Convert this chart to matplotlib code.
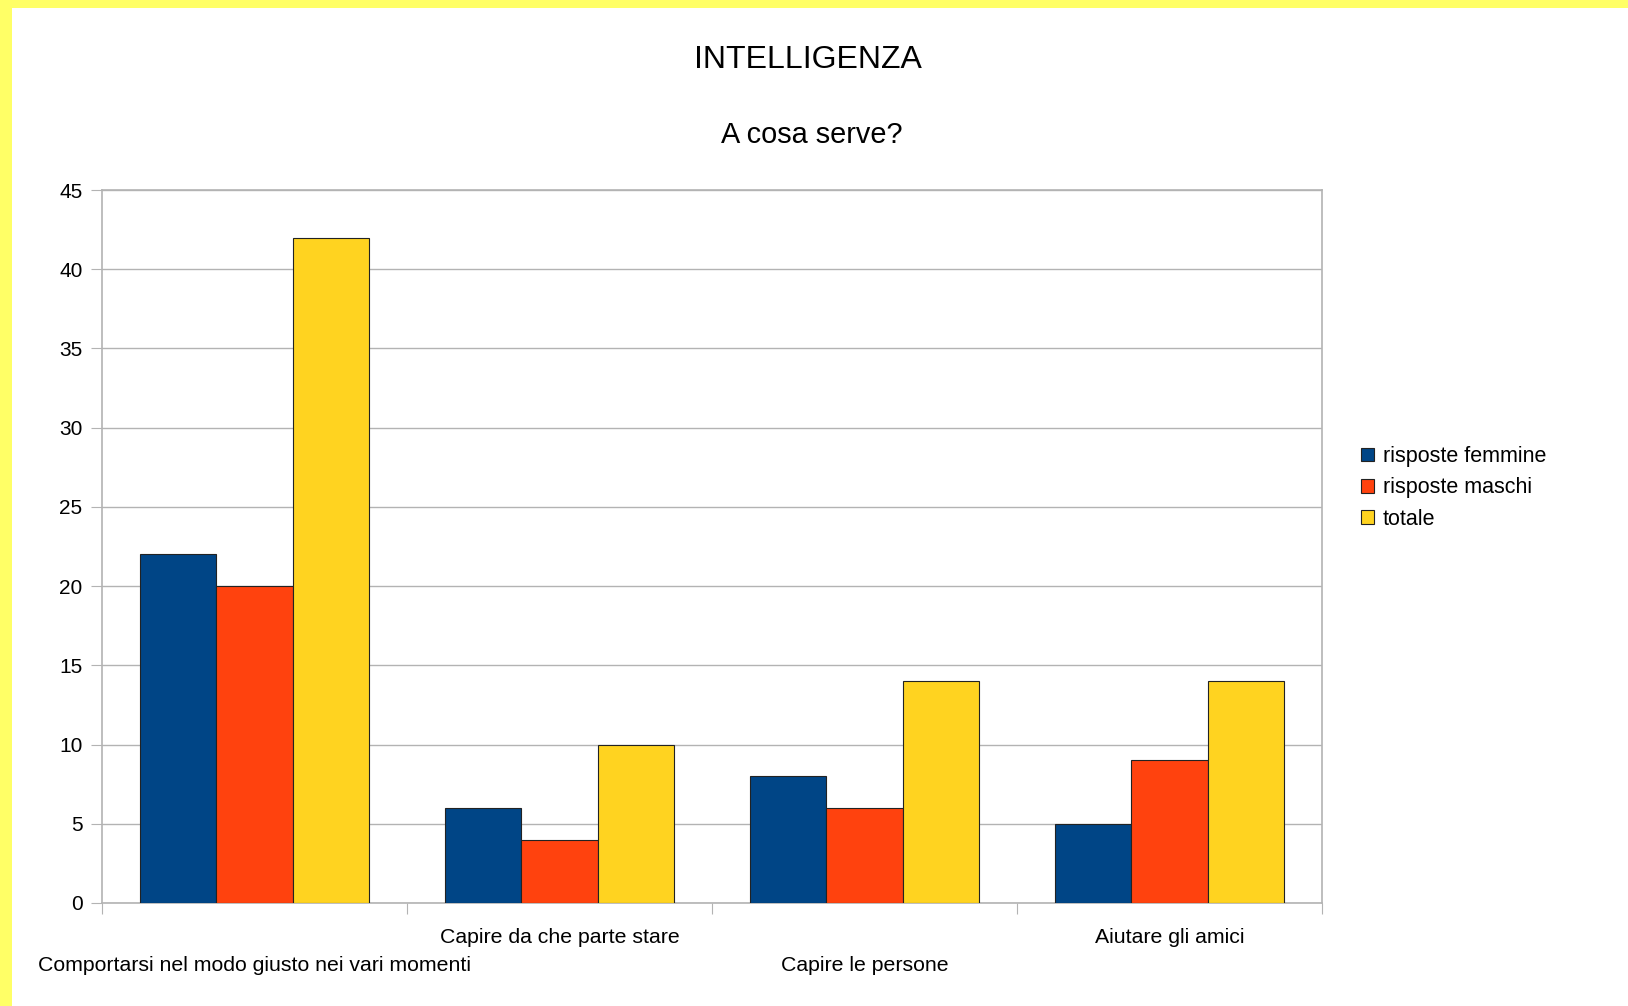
"""Grouped bar chart: INTELLIGENZA - A cosa serve?"""

import matplotlib

matplotlib.use("Agg")
import matplotlib.pyplot as plt
import numpy as np
from matplotlib.patches import Rectangle
from matplotlib.transforms import blended_transform_factory

plt.rcParams["font.family"] = ["Liberation Sans", "DejaVu Sans"]

categories = [
    "Comportarsi nel modo giusto nei vari momenti",
    "Capire da che parte stare",
    "Capire le persone",
    "Aiutare gli amici",
]
series_names = ["risposte femmine", "risposte maschi", "totale"]
femmine = [22, 6, 8, 5]
maschi = [20, 4, 6, 9]
totale = [42, 10, 14, 14]
y_ticks = [0, 5, 10, 15, 20, 25, 30, 35, 40, 45]

COLORS = ["#004586", "#ff420e", "#ffd320"]
GRID = "#b3b3b3"
W, H = 1628, 1006

fig = plt.figure(figsize=(W / 100, H / 100), dpi=100)
fig.patch.set_facecolor("white")

# yellow frame on top and left
fig.patches.append(Rectangle((0, 1 - 8 / H), 1, 8 / H, transform=fig.transFigure,
                             facecolor="#ffff66", edgecolor="none", zorder=0))
fig.patches.append(Rectangle((0, 0), 12 / W, 1, transform=fig.transFigure,
                             facecolor="#ffff66", edgecolor="none", zorder=0))

ax = fig.add_axes([102 / W, 1 - 903 / H, (1322 - 102) / W, (903 - 190) / H])

x = np.arange(len(categories))
bw = 0.25
for i, (vals, name) in enumerate(zip([femmine, maschi, totale], series_names)):
    ax.bar(x + (i - 1) * bw, vals, width=bw, color=COLORS[i], edgecolor="#222222",
           linewidth=0.8, label=name, zorder=3)

ax.set_xlim(-0.5, len(categories) - 0.5)
ax.set_ylim(0, 45)
ax.set_yticks(y_ticks)
ax.tick_params(axis="y", labelsize=15, length=8, color=GRID, pad=6)
ax.set_xticks(np.arange(-0.5, len(categories), 1.0))
ax.set_xticklabels([])
ax.tick_params(axis="x", length=8, color=GRID)
ax.yaxis.grid(True, color=GRID, linewidth=1.0, zorder=0)
for sp in ax.spines.values():
    sp.set_color(GRID)
    sp.set_linewidth(1.2)

# staggered category labels
trans = blended_transform_factory(ax.transData, ax.transAxes)
for i, cat in enumerate(categories):
    yy = -0.088 if i % 2 == 0 else -0.048
    ax.text(i, yy, cat, transform=trans, ha="center", va="center", fontsize=15.3)

fig.text(0.496, 1 - 60 / H, "INTELLIGENZA", ha="center", va="center", fontsize=23)
fig.text(0.4985, 1 - 135 / H, "A cosa serve?", ha="center", va="center", fontsize=20.8)

leg = fig.legend(loc="upper left", bbox_to_anchor=(1361 / W, 1 - 446 / H),
                 frameon=False, fontsize=15.5, handlelength=0.6, handleheight=0.6,
                 handletextpad=0.4, labelspacing=0.48, borderpad=0, borderaxespad=0)

fig.savefig("out.png", dpi=100)
